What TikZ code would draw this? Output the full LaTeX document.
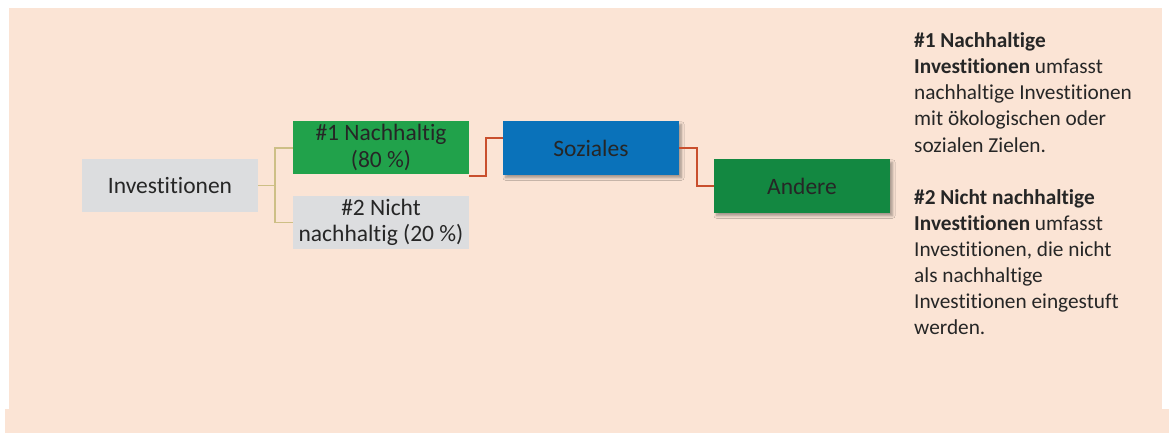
\documentclass[tikz,border=0pt]{standalone}
\usepackage{fontspec}
\setmainfont{Carlito}[Ligatures=NoCommon]
\usetikzlibrary{shadows.blur}
\definecolor{bgpeach}{HTML}{FBE4D5}
\definecolor{boxgrey}{HTML}{DCDDDF}
\definecolor{greenA}{HTML}{21A24B}
\definecolor{greenB}{HTML}{138841}
\definecolor{blueS}{HTML}{0A72BA}
\definecolor{khaki}{HTML}{CDBF86}
\definecolor{redline}{HTML}{C94F2D}
\definecolor{txt}{HTML}{262626}
\tikzset{
  cbox/.style={minimum width=176pt, minimum height=53.5pt, inner sep=0pt, align=center,
    text=txt, font=\fontsize{23.5}{26.5}\selectfont},
  shad/.style={blur shadow={shadow xshift=2.5pt, shadow yshift=-3pt, shadow blur steps=6, shadow blur radius=2.5pt, shadow opacity=35}},
  kline/.style={draw=khaki, line width=1.6pt},
  rline/.style={draw=redline, line width=2pt},
}
\begin{document}
\begin{tikzpicture}[x=1pt,y=-1pt]
\useasboundingbox (0,0) rectangle (1169,434);
\fill[bgpeach] (9,8) rectangle (1162,409);
\fill[bgpeach] (5,409) rectangle (1169,433);

\node[cbox, fill=boxgrey] (inv) at (170,185.5) {Investitionen};
\node[cbox, fill=greenA] (n1) at (381,147.7) {\#1 Nachhaltig\\(80~\%)};
\node[cbox, fill=boxgrey] (n2) at (381,222.5) {\#2 Nicht\\nachhaltig (20~\%)};
\node[cbox, fill=blueS, shad] (soz) at (591,148) {Soziales};
\node[cbox, fill=greenB, shad] (and) at (802,186) {Andere};

\coordinate (n1out) at ([yshift=-1.2pt]n1.south east);
\coordinate (sozin) at ([yshift=10pt]soz.west);

\draw[kline] (inv.east) -- ++(17,0) |- (n1.west);
\draw[kline] (inv.east) -- ++(17,0) |- (n2.west);
\draw[rline] (n1out) -- ++(17,0) |- (sozin);
\draw[rline] (soz.east) -- ++(17.5,0) |- (and.west);

\node[anchor=north west, inner sep=0pt, align=left, text=txt,
  font=\fontsize{21.3}{26.1}\selectfont] (desc) at (914,32.5)
{\textbf{\#1 Nachhaltige}\\
\textbf{Investitionen} umfasst\\
nachhaltige Investitionen\\
mit ökologischen oder\\
sozialen Zielen.\\[26.1pt]
\textbf{\#2 Nicht nachhaltige}\\
\textbf{Investitionen} umfasst\\
Investitionen, die nicht\\
als nachhaltige\\
Investitionen eingestuft\\
werden.};
\end{tikzpicture}
\end{document}
